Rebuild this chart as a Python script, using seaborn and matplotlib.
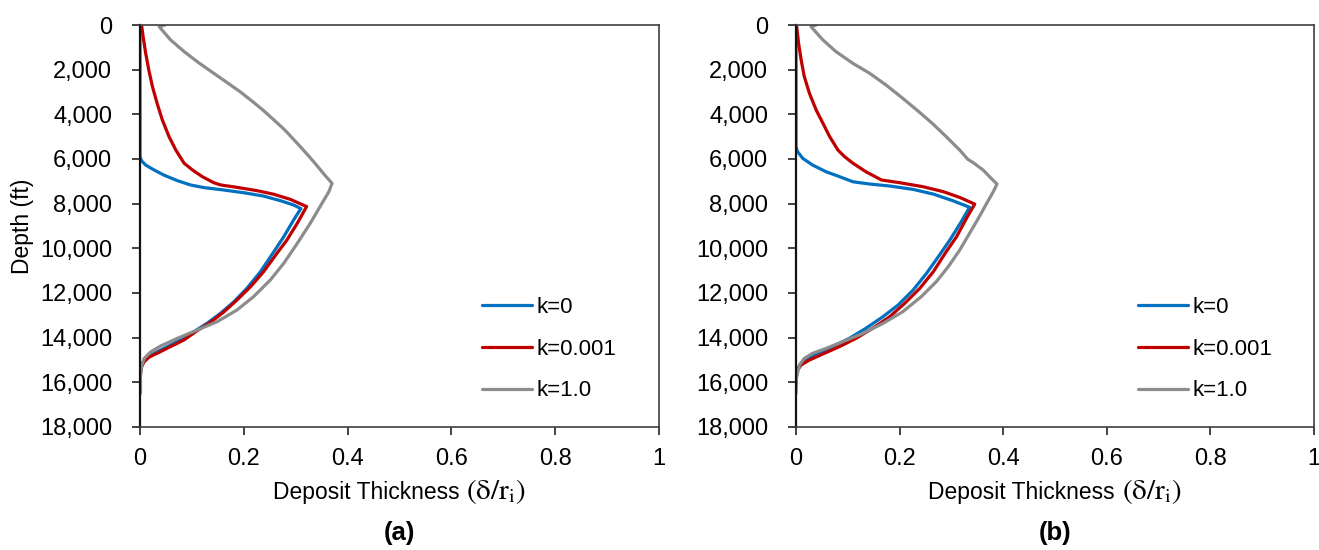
import numpy as np
import pandas as pd
import matplotlib
matplotlib.use("Agg")
import matplotlib.pyplot as plt
import seaborn as sns
from matplotlib.ticker import FuncFormatter, FixedLocator
from matplotlib.lines import Line2D

# ---------------- data ----------------
series_labels = ["k=0", "k=0.001", "k=1.0"]
panel_labels = ["(a)", "(b)"]
x_ticks = [0, 0.2, 0.4, 0.6, 0.8, 1.0]
x_tick_labels = ["0", "0.2", "0.4", "0.6", "0.8", "1"]
y_ticks = [0, 2000, 4000, 6000, 8000, 10000, 12000, 14000, 16000, 18000]

# Panel (a)
k0_a_depth = [0, 5900, 6080, 6270, 6490, 6720, 6970, 7160, 7280, 7390, 7510,
              7660, 7870, 8060, 8220, 8730, 9480, 10150, 11050, 11790, 12390,
              12910, 13360, 13730, 14100, 14400, 14670, 14880, 15080, 15300, 15520]
k0_a_x = [0, 0, 0.003, 0.011, 0.027, 0.046, 0.072, 0.097, 0.123, 0.162, 0.200,
          0.238, 0.271, 0.296, 0.310, 0.296, 0.277, 0.258, 0.232, 0.206, 0.181,
          0.155, 0.129, 0.104, 0.078, 0.053, 0.030, 0.014, 0.006, 0.003, 0.001]
k001_a_depth = [0, 520, 1270, 2020, 2760, 3510, 4250, 5000, 5600, 6190, 6490,
                6790, 7060, 7160, 7270, 7420, 7580, 7810, 8130, 8880, 9630,
                10220, 11050, 11720, 12310, 12840, 13310, 13690, 14100, 14400,
                14700, 14880, 15080, 15300, 15600]
k001_a_x = [0.003, 0.006, 0.011, 0.017, 0.024, 0.033, 0.043, 0.056, 0.069,
            0.085, 0.101, 0.120, 0.142, 0.155, 0.187, 0.226, 0.258, 0.290,
            0.321, 0.303, 0.283, 0.264, 0.238, 0.213, 0.187, 0.162, 0.136,
            0.110, 0.085, 0.059, 0.033, 0.017, 0.008, 0.003, 0.001]
k1_a_depth = [0, 75, 670, 1190, 1690, 2160, 2580, 2990, 3430, 3810, 4250, 4700,
              5150, 5450, 5970, 6270, 6720, 7090, 7460, 8130, 8880, 9780, 10670,
              11420, 12160, 12760, 13280, 13660, 14030, 14370, 14630, 14930,
              15300, 15750, 16490]
k1_a_x = [0.048, 0.037, 0.059, 0.085, 0.113, 0.142, 0.168, 0.193, 0.217,
          0.237, 0.258, 0.279, 0.297, 0.309, 0.329, 0.340, 0.356, 0.370,
          0.364, 0.347, 0.328, 0.303, 0.277, 0.251, 0.219, 0.187, 0.149,
          0.110, 0.072, 0.040, 0.021, 0.008, 0.003, 0.001, 0.001]

# Panel (b)
k0_b_depth = [0, 5450, 5670, 5970, 6270, 6570, 6790, 7020, 7120, 7210, 7360,
              7570, 7870, 8160, 8810, 9630, 10300, 11120, 11870, 12540, 13060,
              13580, 14030, 14400, 14700, 14960, 15220, 15520]
k0_b_x = [0, 0, 0.003, 0.013, 0.032, 0.058, 0.084, 0.110, 0.142, 0.181, 0.226,
          0.265, 0.303, 0.335, 0.319, 0.297, 0.277, 0.252, 0.226, 0.197, 0.168,
          0.135, 0.103, 0.071, 0.042, 0.019, 0.007, 0.001]
k001_b_depth = [0, 820, 1570, 2310, 3060, 3810, 4400, 5000, 5600, 5900, 6190,
                6570, 6940, 7060, 7240, 7460, 7720, 8020, 8660, 9480, 10150,
                11050, 11790, 12460, 13060, 13580, 14030, 14400, 14730, 15000,
                15220, 15450, 15750]
k001_b_x = [0.001, 0.005, 0.010, 0.016, 0.026, 0.039, 0.052, 0.065, 0.081,
            0.094, 0.110, 0.135, 0.165, 0.200, 0.245, 0.284, 0.316, 0.345,
            0.329, 0.310, 0.290, 0.265, 0.239, 0.210, 0.181, 0.148, 0.116,
            0.084, 0.052, 0.026, 0.010, 0.003, 0.001]
k1_b_depth = [0, 75, 670, 1190, 1720, 2160, 2690, 3280, 3880, 4400, 5000, 5600,
              6020, 6160, 6490, 6870, 7120, 7460, 7990, 8660, 9330, 10080, 10820,
              11490, 12160, 12840, 13360, 13810, 14180, 14480, 14700, 14930,
              15220, 15750, 16490]
k1_b_x = [0.039, 0.029, 0.052, 0.077, 0.110, 0.142, 0.174, 0.206, 0.237,
          0.263, 0.290, 0.316, 0.332, 0.342, 0.361, 0.377, 0.388, 0.381,
          0.368, 0.352, 0.335, 0.316, 0.294, 0.271, 0.242, 0.206, 0.168,
          0.129, 0.090, 0.058, 0.032, 0.016, 0.007, 0.001, 0]

colors = {"k=0": "#0070C0", "k=0.001": "#C00000", "k=1.0": "#8C8C8C"}

# ------------- build long table -------------
rows = []
panels = {
    "(a)": [(k0_a_depth, k0_a_x), (k001_a_depth, k001_a_x), (k1_a_depth, k1_a_x)],
    "(b)": [(k0_b_depth, k0_b_x), (k001_b_depth, k001_b_x), (k1_b_depth, k1_b_x)],
}
for p, lst in panels.items():
    for lab, (d, x) in zip(series_labels, lst):
        for i, (dd, xx) in enumerate(zip(d, x)):
            rows.append({"panel": p, "k": lab, "depth": dd, "thick": xx, "order": i})
df = pd.DataFrame(rows)

# ------------- style -------------
sns.set_theme(style="white")
plt.rcParams["font.family"] = ["Liberation Sans", "DejaVu Sans"]
plt.rcParams["mathtext.fontset"] = "stix"
plt.rcParams["text.color"] = "black"
plt.rcParams["axes.labelcolor"] = "black"
plt.rcParams["legend.labelcolor"] = "black"

W, H = 1319, 550
fig = plt.figure(figsize=(W / 100, H / 100), dpi=100)

ax_left_px = [140, 796]
ax_right_px = [659, 1314]
ax_top_px, ax_bot_px = 25, 427

TICK_FS = 17
LAB_FS = 16.5
LEG_FS = 16
label_parts = []
for idx, p in enumerate(panel_labels):
    l, r = ax_left_px[idx], ax_right_px[idx]
    axw, axh = r - l, ax_bot_px - ax_top_px
    ax = fig.add_axes([l / W, 1 - ax_bot_px / H, axw / W, axh / H])
    sub = df[df.panel == p]
    for lab in series_labels:
        s = sub[sub.k == lab].sort_values("order")
        sns.lineplot(data=s, x="thick", y="depth", sort=False, estimator=None,
                     color=colors[lab], lw=2.3, ax=ax, legend=False)
    ax.set_xlim(0, 1)
    ax.set_ylim(18000, 0)
    ax.xaxis.set_major_locator(FixedLocator(x_ticks))
    ax.set_xticklabels(x_tick_labels)
    ax.yaxis.set_major_locator(FixedLocator(y_ticks))
    ax.yaxis.set_major_formatter(FuncFormatter(lambda v, pos: f"{int(v):,}"))
    ax.tick_params(axis="both", direction="out", length=6, width=1.2,
                   color="#222222", labelsize=TICK_FS, labelcolor="black",
                   bottom=True, left=True)
    ax.tick_params(axis="y", pad=14)
    ax.tick_params(axis="x", pad=9)
    for sp in ["top", "right", "bottom"]:
        ax.spines[sp].set_color("#404040")
        ax.spines[sp].set_linewidth(1.2)
    ax.spines["left"].set_color("#111111")
    ax.spines["left"].set_linewidth(1.6)
    ax.set_xlabel("")
    if idx == 0:
        ax.set_ylabel("Depth (ft)", fontsize=LAB_FS, color="black")
        ax.yaxis.set_label_coords((22 - l) / axw, 0.5)
        ax.yaxis.label.set_va("center")
    else:
        ax.set_ylabel("")
    ax.grid(False)

    # x-axis title: sans part + serif math part
    t1 = fig.text(0, 1 - 499 / H, "Deposit Thickness", fontsize=LAB_FS,
                  va="baseline", ha="left", color="black")
    t2 = fig.text(0, 1 - 499 / H, r"$(\mathrm{δ}/\mathrm{r}_\mathrm{i})$",
                  fontsize=21, va="baseline", ha="left", color="black")
    label_parts.append((t1, t2, (l + r) / 2))

    handles = [Line2D([0], [0], color=colors[lab], lw=2.3) for lab in series_labels]
    leg_x = (l + 342) / W
    ax.legend(handles, series_labels, loc="upper left",
              bbox_to_anchor=(leg_x, 1 - 297 / H), bbox_transform=fig.transFigure,
              frameon=False, fontsize=LEG_FS, handlelength=2.25, handletextpad=0.2,
              labelspacing=0.93, borderpad=0, borderaxespad=0, labelcolor="black")
    fig.text(((l + r) / 2) / W, 1 - 533 / H, p, ha="center", va="center",
             fontsize=18.5, fontweight="bold", color="black")

fig.canvas.draw()
renderer = fig.canvas.get_renderer()
gap = 7
for t1, t2, cx in label_parts:
    w1 = t1.get_window_extent(renderer).width
    w2 = t2.get_window_extent(renderer).width
    x0 = cx - (w1 + gap + w2) / 2
    t1.set_x(x0 / W)
    t2.set_x((x0 + w1 + gap) / W)

fig.savefig("out.png", dpi=100)
